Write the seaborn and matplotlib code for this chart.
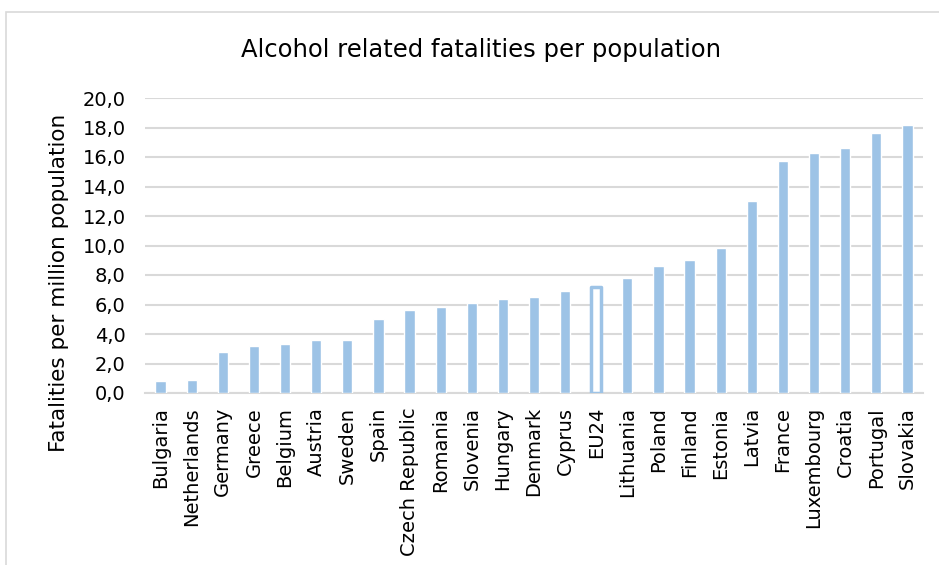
import matplotlib
matplotlib.use("Agg")
import matplotlib.pyplot as plt
from matplotlib.patches import Rectangle
import seaborn as sns
import pandas as pd

countries = ["Bulgaria", "Netherlands", "Germany", "Greece", "Belgium", "Austria",
             "Sweden", "Spain", "Czech Republic", "Romania", "Slovenia", "Hungary",
             "Denmark", "Cyprus", "EU24", "Lithuania", "Poland", "Finland", "Estonia",
             "Latvia", "France", "Luxembourg", "Croatia", "Portugal", "Slovakia"]
fatalities = [0.8, 0.9, 2.8, 3.2, 3.3, 3.6, 3.6, 5.0, 5.6, 5.8, 6.1, 6.4, 6.5, 6.9,
              7.2, 7.8, 8.6, 9.0, 9.8, 13.0, 15.7, 16.3, 16.6, 17.6, 18.2]
yticks = [0, 2, 4, 6, 8, 10, 12, 14, 16, 18, 20]
highlight = "EU24"

sns.set_theme(style="white")
plt.rcParams["font.family"] = ["DejaVu Sans"]
plt.rcParams["text.color"] = "black"

bar_color = "#9DC3E6"
grid_color = "#d9d9d9"

df = pd.DataFrame({"country": countries, "value": fatalities})

fig = plt.figure(figsize=(9.39, 5.65), dpi=100)
ax = fig.add_axes([145 / 939, 1 - 393 / 565, (923 - 145) / 939, (393 - 98) / 565])

sns.barplot(data=df, x="country", y="value", color=bar_color, saturation=1,
            width=0.33, ax=ax, zorder=3)

# EU average drawn as an outlined bar
idx = countries.index(highlight)
patch = ax.patches[idx]
patch.set_facecolor("white")
patch.set_edgecolor(bar_color)
patch.set_linewidth(2.5)
patch.set_joinstyle("round")

ax.set_ylim(0, 20)
ax.set_yticks(yticks)
ax.set_yticklabels([f"{t:.1f}".replace(".", ",") for t in yticks], fontsize=14)
ax.yaxis.grid(True, color=grid_color, linewidth=1.5, zorder=0)
ax.set_axisbelow(True)
for s in ["left", "right", "top"]:
    ax.spines[s].set_visible(False)
ax.spines["bottom"].set_color(grid_color)
ax.spines["bottom"].set_linewidth(1.5)
ax.tick_params(axis="y", length=0, pad=14, colors="black")
ax.tick_params(axis="x", length=0, pad=10, colors="black")
plt.setp(ax.get_xticklabels(), rotation=90, fontsize=14)
ax.set_xlabel("")
ax.set_ylabel("")
ax.set_xlim(-0.5, len(countries) - 0.5)

fig.text(59 / 939, 1 - 283 / 565, "Fatalities per million population",
         rotation=90, ha="center", va="center", fontsize=15.5, color="black")
fig.text(481 / 939, 1 - 50 / 565, "Alcohol related fatalities per population",
         ha="center", va="center", fontsize=17.5, color="black")

# chart frame
fig.patches.append(Rectangle((6 / 939, -0.1), 1.2, 1 - 12 / 565 + 0.1,
                             transform=fig.transFigure, fill=False,
                             edgecolor=grid_color, linewidth=1.2))

fig.savefig("out.png", dpi=100)
